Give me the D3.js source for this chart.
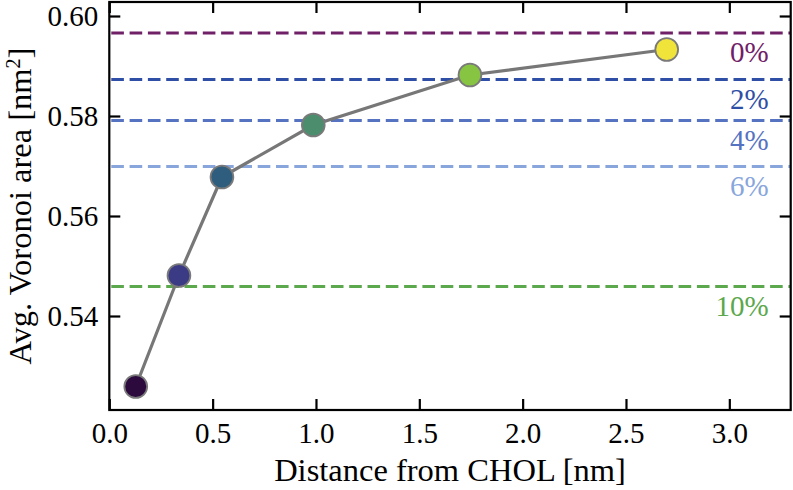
<!DOCTYPE html>
<html><head><meta charset="utf-8">
<script src="https://cdn.jsdelivr.net/npm/d3@7"></script>
<style>
body{margin:0;background:#fff}
svg{display:block}
text{font-family:"Liberation Serif","DejaVu Serif",serif}
</style>
</head><body>
<svg id="c" width="793" height="490"></svg>
<script>
// ---- data ----
const distances = [0.128, 0.337, 0.545, 0.987, 1.745, 2.697];
const areas = [0.5259, 0.5481, 0.5678, 0.5782, 0.5882, 0.5933];
const pointColors = ["#2c0a3e", "#3b3a85", "#2e5d7e", "#4b8d6d", "#86c441", "#f0e43a"];
const refLabels = ["0%", "2%", "4%", "6%", "10%"];
const refValues = [0.5966, 0.5873, 0.5791, 0.5699, 0.5459];
const refColors = ["#702067", "#2f4fa6", "#5573c0", "#88a6dc", "#5ca84c"];
const xTicks = [0, 0.5, 1.0, 1.5, 2.0, 2.5, 3.0];
const yTicks = [0.54, 0.56, 0.58, 0.60];
const xLabel = "Distance from CHOL [nm]";

// ---- layout ----
const W = 793, H = 490;
const L = 109.3, R = 790.7, T = 2, B = 410;
const FS = 29, TFS = 32.5;

const svg = d3.select("#c");
const x = d3.scaleLinear().domain([0, 3.297]).range([L, R]);
const y = d3.scaleLinear().domain([0.5212, 0.6028]).range([B, T]);

// reference dashed lines
svg.append("g").selectAll("line").data(refValues).join("line")
  .attr("x1", x(0) + 2).attr("x2", x(3.297))
  .attr("y1", d => y(d)).attr("y2", d => y(d))
  .attr("stroke", (d, i) => refColors[i])
  .attr("stroke-width", 3.2)
  .attr("stroke-dasharray", "12.6,5.7");

svg.append("g").selectAll("text").data(refValues).join("text")
  .attr("x", x(3.19))
  .attr("y", d => y(d) + 29)
  .attr("text-anchor", "end")
  .attr("font-size", FS)
  .attr("fill", (d, i) => refColors[i])
  .text((d, i) => refLabels[i]);

// data line
const pts = distances.map((d, i) => [d, areas[i]]);
svg.append("path").datum(pts)
  .attr("fill", "none")
  .attr("stroke", "#777777")
  .attr("stroke-width", 3.2)
  .attr("d", d3.line().x(d => x(d[0])).y(d => y(d[1])));

svg.append("g").selectAll("circle").data(pts).join("circle")
  .attr("cx", d => x(d[0])).attr("cy", d => y(d[1]))
  .attr("r", 11.4)
  .attr("fill", (d, i) => pointColors[i])
  .attr("stroke", "#7a7a7a")
  .attr("stroke-width", 1.8);

// axes
const fmt2 = d3.format(".2f"), fmt1 = d3.format(".1f");
const gx = svg.append("g").attr("transform", `translate(0,${B})`)
  .call(d3.axisBottom(x).tickValues(xTicks).tickFormat(fmt1).tickSizeInner(-11).tickSizeOuter(0).tickPadding(12));
const gy = svg.append("g").attr("transform", `translate(${L},0)`)
  .call(d3.axisLeft(y).tickValues(yTicks).tickFormat(fmt2).tickSizeInner(-11).tickSizeOuter(0).tickPadding(11));
const gt = svg.append("g").attr("transform", `translate(0,${T})`)
  .call(d3.axisTop(x).tickValues(xTicks).tickFormat("").tickSizeInner(-11).tickSizeOuter(0));
const gr = svg.append("g").attr("transform", `translate(${R},0)`)
  .call(d3.axisRight(y).tickValues(yTicks).tickFormat("").tickSizeInner(-11).tickSizeOuter(0));
[gx, gy, gt, gr].forEach(g => {
  g.select(".domain").remove();
  g.selectAll(".tick line").attr("stroke", "#000").attr("stroke-width", 2.2);
  g.selectAll(".tick text").attr("font-size", FS).attr("fill", "#000")
    .attr("font-family", '"Liberation Serif","DejaVu Serif",serif');
});

// frame
svg.append("rect").attr("x", L).attr("y", T).attr("width", R - L).attr("height", B - T)
  .attr("fill", "none").attr("stroke", "#000").attr("stroke-width", 2.2);

// axis labels
svg.append("text").attr("x", (L + R) / 2).attr("y", 481)
  .attr("text-anchor", "middle").attr("font-size", TFS).text(xLabel);

const yl = svg.append("text")
  .attr("transform", `translate(31,${(T + B) / 2}) rotate(-90)`)
  .attr("text-anchor", "middle").attr("font-size", TFS);
yl.append("tspan").text("Avg. Voronoi area [nm");
yl.append("tspan").attr("font-size", 20).attr("dy", -11).text("2");
yl.append("tspan").attr("dy", 11).text("]");
</script>
</body></html>
